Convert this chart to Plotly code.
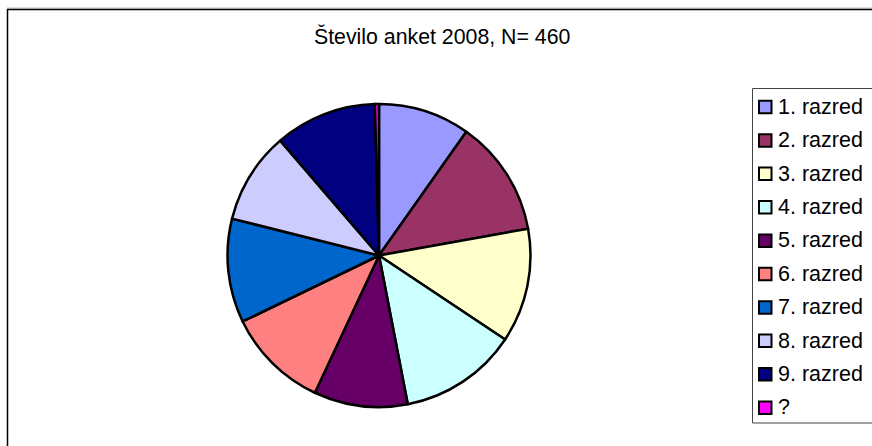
import plotly.graph_objects as go

W, H = 872, 446

labels = ["1. razred", "2. razred", "3. razred", "4. razred", "5. razred",
          "6. razred", "7. razred", "8. razred", "9. razred", "?"]
values = [45, 57, 56, 58, 46, 50, 51, 45, 50, 2]
colors = ["#9999FF", "#993366", "#FFFFCC", "#CCFFFF", "#660066",
          "#FF8080", "#0066CC", "#CCCCFF", "#000080", "#FF00FF"]
title_text = "Število anket 2008, N= 460"

FONT = "Liberation Sans, Arial, sans-serif"

def px(x):
    return x / W

def py(y):
    return 1 - y / H

cx, cy, r = 379, 255.5, 151.5

fig = go.Figure(go.Pie(
    labels=labels,
    values=values,
    marker=dict(colors=colors, line=dict(color="#000000", width=2.5)),
    sort=False,
    direction="clockwise",
    rotation=0,
    textinfo="none",
    hoverinfo="label+value+percent",
    showlegend=False,
    domain=dict(x=[px(cx - r), px(cx + r)], y=[py(cy + r), py(cy - r)]),
))

shapes = []
annotations = []

# outer chart border
shapes.append(dict(type="line", xref="paper", yref="paper",
                   x0=px(7), x1=px(880), y0=py(8), y1=py(8),
                   line=dict(color="#bbbbbb", width=1)))
shapes.append(dict(type="rect", xref="paper", yref="paper",
                   x0=px(7.5), x1=px(900), y0=py(9.5), y1=py(500),
                   line=dict(color="#000000", width=1.5)))

# legend box
shapes.append(dict(type="rect", xref="paper", yref="paper",
                   x0=px(752.5), x1=px(900), y0=py(88.5), y1=py(423),
                   line=dict(color="#444444", width=1)))

y0_leg, dy_leg = 106.8, 33.4
for i, (lab, col) in enumerate(zip(labels, colors)):
    yc = y0_leg + i * dy_leg
    shapes.append(dict(type="rect", xref="paper", yref="paper",
                       x0=px(759), x1=px(771.5), y0=py(yc - 6), y1=py(yc + 6.5),
                       fillcolor=col, line=dict(color="#000000", width=2)))
    annotations.append(dict(text=lab, xref="paper", yref="paper",
                            x=px(776), y=py(yc), xanchor="left", yanchor="middle",
                            showarrow=False,
                            font=dict(family=FONT, size=21.5, color="#000000")))

annotations.append(dict(text=title_text, xref="paper", yref="paper",
                        x=px(442), y=py(36), xanchor="center", yanchor="middle",
                        showarrow=False,
                        font=dict(family=FONT, size=21.3, color="#000000")))

fig.update_layout(
    width=W, height=H,
    margin=dict(l=0, r=0, t=0, b=0),
    paper_bgcolor="#ffffff",
    plot_bgcolor="#ffffff",
    shapes=shapes,
    annotations=annotations,
)

fig.write_html(
    "out.html",
    config={"displayModeBar": False},
    post_script="document.body.style.margin='0';document.body.style.overflow='hidden';",
)
